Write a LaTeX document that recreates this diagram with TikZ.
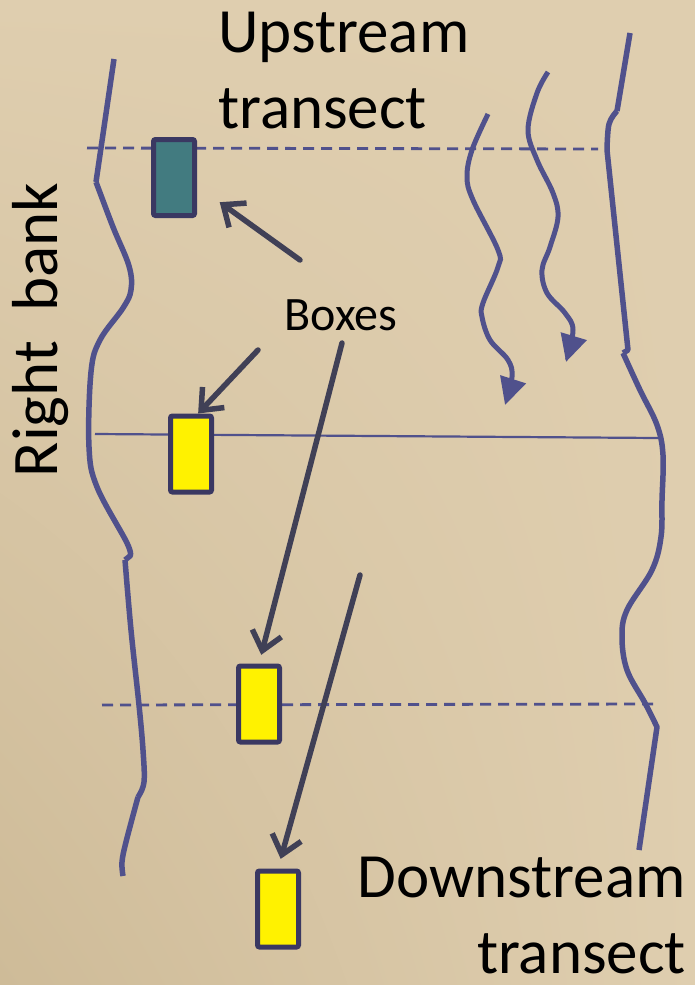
\documentclass[tikz,border=0pt]{standalone}
\usepackage{fontspec}
\setmainfont{Carlito}
\usetikzlibrary{arrows.meta,shadings}
\definecolor{bgbeige}{RGB}{223,206,175}
\definecolor{bgdark}{RGB}{206,187,152}
\definecolor{bankblue}{RGB}{80,81,140}
\definecolor{pointergray}{RGB}{64,64,86}
\definecolor{boxedge}{RGB}{58,56,98}
\definecolor{boxteal}{RGB}{66,123,128}

\begin{document}
\begin{tikzpicture}[x=1pt,y=-1pt,
 bank/.style={draw=bankblue,line width=5.5pt,line join=round},
 transect/.style={draw=bankblue,line width=2.8pt,dash pattern=on 11pt off 7pt},
 flow/.style={draw=bankblue,line width=5pt,-{Triangle[length=27pt,width=26pt]}},
 pointer/.style={draw=pointergray,line width=5.5pt,line cap=round,-{Straight Barb[length=18pt,width=30pt]}},
 boxmark/.style={draw=boxedge,fill=yellow,line width=5pt,rounded corners=2pt,minimum width=41pt,minimum height=76pt,inner sep=0pt},
 bigtext/.style={font=\fontsize{63}{76}\selectfont,inner sep=0pt}]

\useasboundingbox (0,0) rectangle (695,985);
\shade[lower left=bgdark,upper left=bgbeige,upper right=bgbeige,lower right=bgbeige] (0,0) rectangle (695,985);

% Transects across the reach
\draw[transect] (87,148) -- (598,149);
\draw[draw=bankblue,line width=2.2pt] (95,434) -- (658,438);
\draw[transect] (102,705) -- (659,704);

% Left bank
\draw[bank] (114,59) -- (96,182)
 plot[smooth,tension=.6] coordinates {(96,182) (113,227) (129,266) (131,290) (123,308) (100,340) (91,372) (89,447) (97,487) (127,543) (130,556)}
 -- (125,560)
 plot[smooth,tension=.6] coordinates {(125,560) (131,630) (139,705) (143,750) (144,782) (138,797)}
 plot[smooth,tension=.6] coordinates {(138,797) (126,842) (122,862) (123,876)};
% Right bank
\draw[bank] (630,33) -- (617,111)
 plot[smooth,tension=.6] coordinates {(617,111) (609,124) (607,150)}
 -- (628,350) -- (623,353)
 plot[smooth,tension=.6] coordinates {(623,353) (640,390) (657,425) (663,455) (662,500) (661,537) (652,570) (627,610) (622,637) (627,670) (645,703) (657,727)}
 -- (639,850);

% Flow lines
\draw[flow] plot[smooth,tension=.6] coordinates {(488,114) (472,150) (467,177) (473,200) (498,250) (498,267) (483,303) (482,317) (490,340) (508,360) (512,377) (505,405)};
\draw[flow] plot[smooth,tension=.6] coordinates {(548,72) (537,93) (528,130) (537,160) (553,193) (558,217) (550,247) (542,270) (547,293) (565,313) (573,330) (566,362)};

% Boxes
\node[boxmark,fill=boxteal] (upbox) at (174,177.5) {};
\node[boxmark] (midbox) at (191,454) {};
\node[boxmark] (lowbox) at (259,704) {};
\node[boxmark] (endbox) at (278,909) {};

% Labels
\node[bigtext,anchor=north west,align=left] (uplabel) at (218,12) {Upstream\\transect};
\node[bigtext,anchor=north east,align=right] (downlabel) at (686,857) {Downstream\\transect};
\node[bigtext,font=\fontsize{65}{76}\selectfont,rotate=90,anchor=base] (banklabel) at (57,330) {Right\ \ bank};
\node[font=\fontsize{48}{56}\selectfont,inner sep=0pt,anchor=base] (boxlabel) at (341,330) {Boxes};

% Pointers to the boxes
\coordinate (tailA) at (300,260);
\coordinate (tailB) at (258,350);
\coordinate (tailC) at (342,343);
\coordinate (tailD) at (360,575);
\draw[pointer,shorten >=28pt] (tailA) -- (upbox.-20);
\draw[pointer] (tailB) -- (midbox.80);
\draw[pointer,shorten >=9pt] (tailC) -- (lowbox.north);
\draw[pointer,shorten >=10pt] (tailD) -- (endbox.north);
\end{tikzpicture}
\end{document}
